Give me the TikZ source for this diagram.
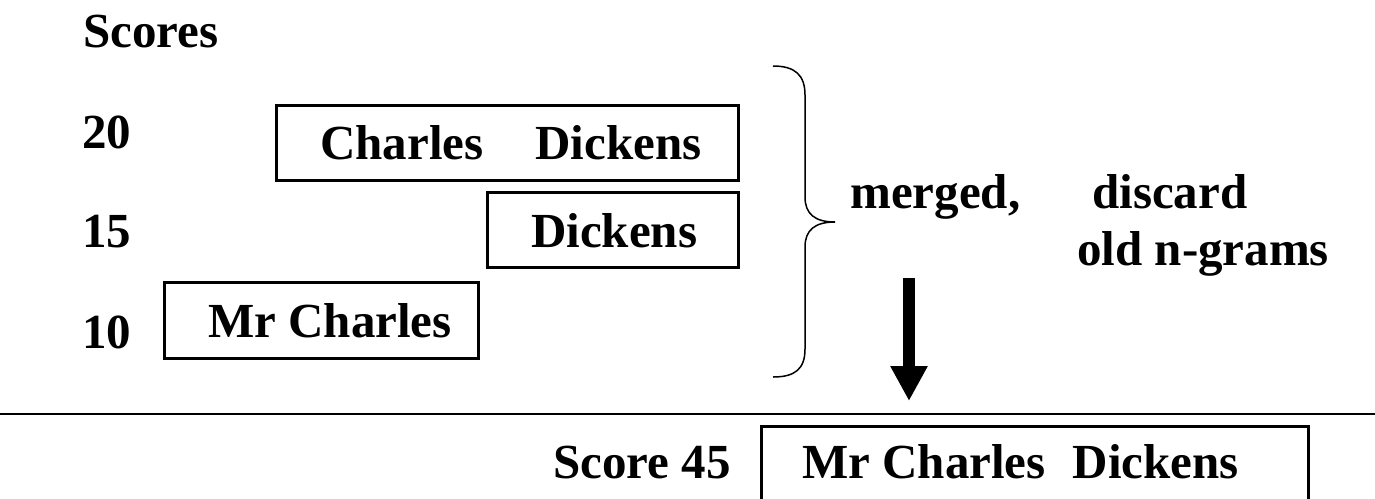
\documentclass[tikz,border=0pt]{standalone}
\usepackage{fontspec}
\setmainfont{Liberation Serif}
\usetikzlibrary{arrows.meta}
\tikzset{
  txt/.style={anchor=base west, inner sep=0pt, font=\fontsize{49}{56}\selectfont\bfseries},
  boxshape/.style={draw, line width=3pt, inner sep=0pt, rectangle},
  brace/.style={line width=1.5pt},
  rule/.style={line width=1.8pt},
  bigarrow/.style={line width=12pt, -{Triangle[width=35pt,length=35pt]}}
}
\begin{document}
\begin{tikzpicture}[x=1pt,y=-1pt]
\useasboundingbox (0,0) rectangle (1375,498);
% score labels
\node[txt] (scores) at (83,47) {Scores};
\node[txt] (s20) at (82,148) {20};
\node[txt] (s15) at (82,247) {15};
\node[txt] (s10) at (82,348) {10};
% boxes
\node[boxshape, minimum width=462pt, minimum height=75pt] (b1) at (507,142.5) {};
\node[txt] (t1) at (320,159) {Charles\hspace{52pt}Dickens};
\node[boxshape, minimum width=251pt, minimum height=75pt] (b2) at (612.5,229.5) {};
\node[txt] (t2) at (531,247) {Dickens};
\node[boxshape, minimum width=314pt, minimum height=76pt] (b3) at (321,320) {};
\node[txt] (t3) at (208,337) {Mr Charles};
% brace
\coordinate (brtop) at (773,66);
\coordinate (brtip) at (835,222);
\coordinate (brbot) at (773,377);
\draw[brace] (brtop) .. controls (795,66) and (805,75) .. (805,95) -- (805,197)
  .. controls (805,214) and (815,222) .. (brtip)
  .. controls (815,222) and (805,230) .. (805,247) -- (805,349)
  .. controls (805,369) and (795,377) .. (brbot);
% merged text
\node[txt] (merged) at (850,208) {merged,};
\node[txt] (discard) at (1092,208) {discard};
\node[txt] (oldng) at (1077,265) {old n-grams};
% arrow
\coordinate (arrtop) at (909,278);
\coordinate (arrtip) at (909,401);
\draw[bigarrow] (arrtop) -- (arrtip);
% rule
\coordinate (rl) at (0,414);
\coordinate (rr) at (1375,414);
\draw[rule] (rl) -- (rr);
% result
\node[txt] (score45) at (553,478) {Score 45};
\node[boxshape, minimum width=547pt, minimum height=120pt] (b4) at (1034.5,486) {};
\node[txt] (t4) at (802,478) {Mr Charles\hspace{27pt}Dickens};
\end{tikzpicture}
\end{document}
